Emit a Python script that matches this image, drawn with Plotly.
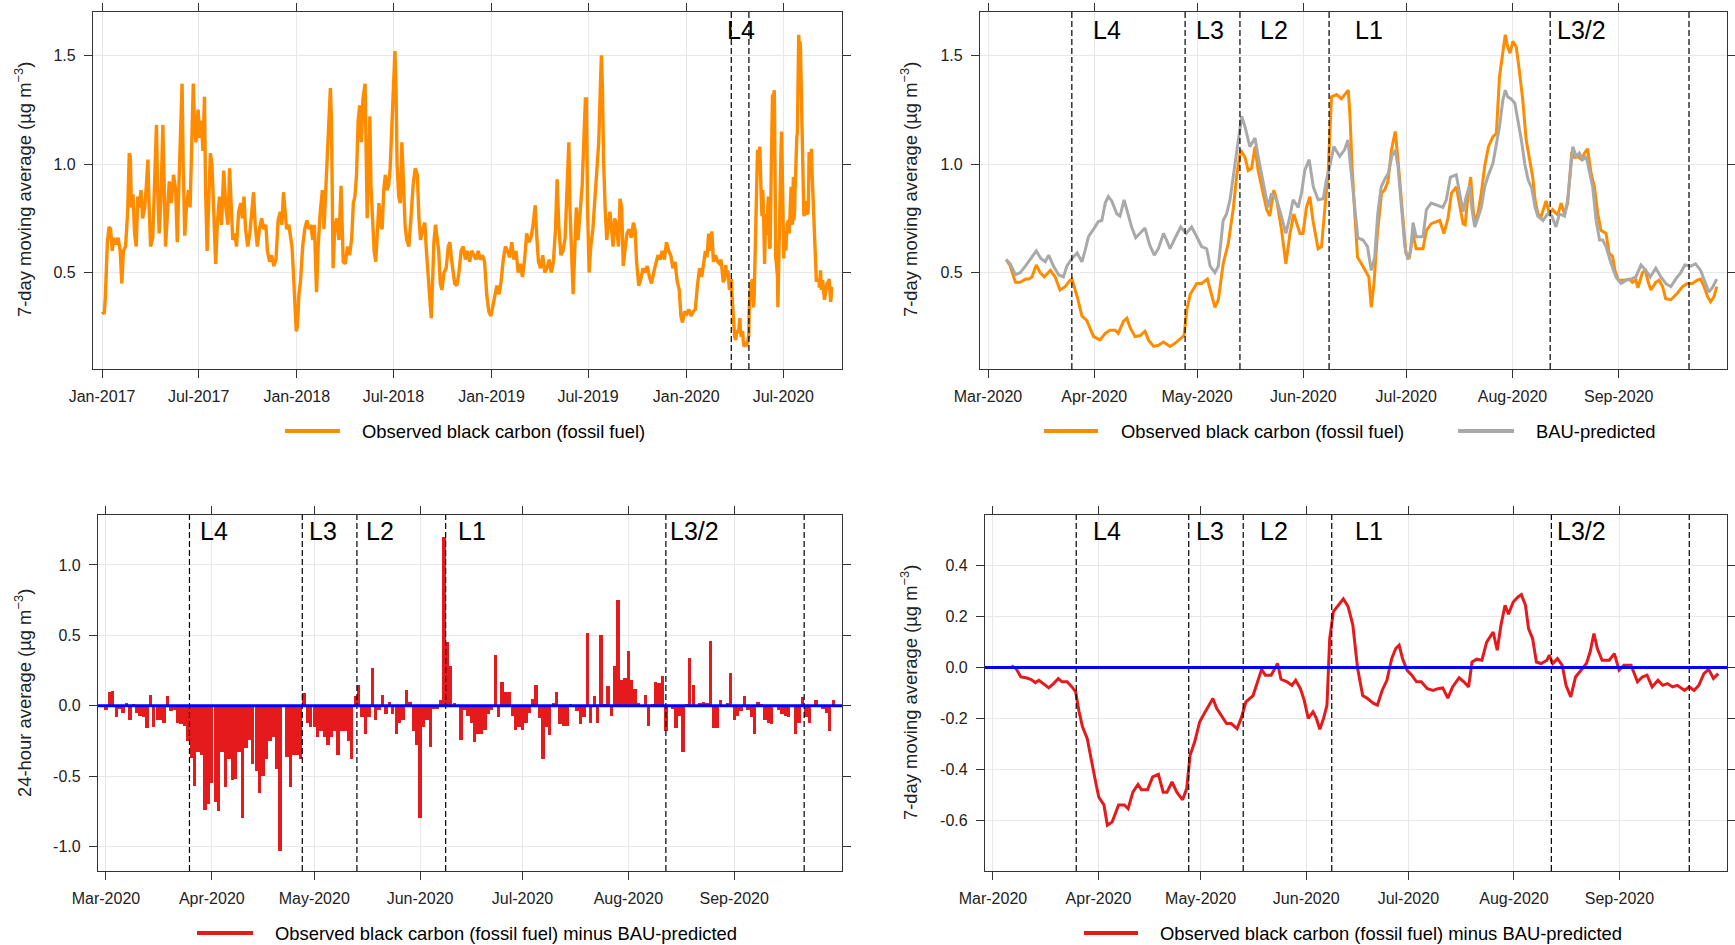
import pandas as pd
import plotly.graph_objects as go

W, H = 1735, 945
FONT = "Liberation Sans, Arial, sans-serif"
ORANGE = "#FF8C00"
GREY = "#A9A9A9"
RED = "#E41A1C"
BLUE = "#0000FF"

# ---------------------------------------------------------------- data
# Observed black carbon (fossil fuel), 7-day moving average, 2017 - early 2020
# (days since 2017-01-01, ug m-3)
hist_day = [0, 4, 6, 8, 10, 13, 16, 19, 22, 26, 30, 34, 37, 40, 44, 48, 51, 53, 55, 58,
            61, 64, 67, 70, 73, 76, 80, 83, 86, 88, 91, 95, 99, 102, 104, 107, 110, 114, 116, 119,
            122, 126, 130, 134, 138, 141, 144, 147, 150, 152, 155, 158, 162, 165, 168, 171, 173, 176, 180, 183,
            186, 189, 192, 194, 197, 200, 203, 206, 209, 213, 216, 220, 224, 228, 232, 236, 239, 242, 245, 249,
            252, 256, 260, 263, 266, 269, 273, 277, 280, 284, 287, 291, 295, 299, 303, 307, 310, 314, 318, 322,
            326, 330, 334, 337, 340, 343, 346, 350, 353, 356, 359, 362, 364, 366, 369, 372, 376, 380, 384, 388,
            391, 395, 398, 402, 405, 409, 413, 416, 420, 424, 428, 430, 433, 436, 440, 444, 448, 452, 456, 460,
            464, 468, 471, 474, 477, 480, 483, 486, 489, 493, 495, 497, 500, 502, 504, 507, 510, 513, 516, 519,
            522, 525, 528, 531, 534, 537, 540, 543, 546, 549, 551, 553, 556, 559, 562, 565, 568, 571, 575, 579,
            583, 587, 591, 594, 597, 601, 605, 608, 611, 614, 617, 619, 622, 625, 628, 631, 634, 637, 641, 645,
            649, 652, 655, 658, 661, 665, 669, 673, 677, 681, 685, 689, 693, 697, 701, 705, 709, 713, 717, 721,
            725, 729, 732, 736, 740, 744, 748, 752, 756, 760, 764, 768, 772, 776, 780, 784, 788, 792, 796, 800,
            804, 808, 812, 815, 818, 822, 826, 830, 834, 838, 842, 846, 850, 853, 856, 860, 864, 868, 872, 875,
            877, 880, 883, 886, 889, 892, 896, 900, 903, 906, 908, 910, 913, 916, 920, 924, 928, 931, 934, 936,
            938, 940, 943, 946, 949, 952, 955, 958, 961, 964, 968, 971, 974, 977, 980, 984, 988, 992, 996, 999,
            1002, 1006, 1010, 1014, 1018, 1022, 1026, 1030, 1034, 1038, 1042, 1046, 1050, 1054, 1058, 1062, 1066, 1070, 1074, 1078,
            1082, 1085, 1088, 1092, 1096, 1100, 1104, 1108, 1112, 1116, 1120, 1124, 1128, 1131, 1134, 1137, 1140, 1143, 1146, 1150,
            1154, 1158]
hist_val = [0.32, 0.31, 0.38, 0.52, 0.64, 0.71, 0.70, 0.60, 0.66, 0.63, 0.66, 0.60, 0.45, 0.60, 0.62, 0.78, 1.05, 1.03, 0.80, 0.86,
            0.68, 0.62, 0.85, 0.80, 0.88, 0.75, 0.80, 0.90, 1.02, 0.82, 0.62, 0.66, 0.95, 1.18, 0.90, 0.68, 0.82, 1.18, 0.95, 0.62,
            0.75, 0.92, 0.82, 0.95, 0.88, 0.64, 0.90, 1.12, 1.37, 1.00, 0.67, 0.80, 0.88, 0.80, 1.05, 1.37, 1.20, 1.10, 1.25, 1.12,
            1.20, 1.06, 1.31, 0.88, 0.60, 0.78, 1.05, 1.00, 0.80, 0.54, 0.72, 0.85, 0.72, 0.97, 0.80, 0.72, 0.98, 0.80, 0.65, 0.68,
            0.62, 0.78, 0.82, 0.75, 0.85, 0.70, 0.62, 0.68, 0.76, 0.87, 0.72, 0.62, 0.70, 0.75, 0.70, 0.72, 0.60, 0.55, 0.58, 0.53,
            0.56, 0.74, 0.78, 0.72, 0.87, 0.80, 0.70, 0.72, 0.68, 0.62, 0.48, 0.30, 0.23, 0.25, 0.40, 0.46, 0.62, 0.70, 0.74, 0.70,
            0.72, 0.65, 0.72, 0.41, 0.62, 0.78, 0.88, 0.70, 0.90, 1.10, 1.35, 1.20, 0.52, 0.70, 0.75, 0.65, 0.90, 0.55, 0.54, 0.62,
            0.58, 0.66, 0.82, 0.85, 0.95, 1.20, 1.27, 1.10, 1.30, 1.37, 1.10, 0.75, 1.00, 1.22, 0.90, 0.70, 0.60, 0.55, 0.66, 0.82,
            0.72, 0.70, 0.88, 0.95, 0.88, 0.90, 0.98, 1.15, 1.40, 1.52, 1.35, 1.00, 0.85, 0.82, 1.10, 0.90, 0.72, 0.65, 0.62, 0.75,
            0.90, 0.98, 0.95, 0.75, 0.65, 0.70, 0.73, 0.60, 0.50, 0.38, 0.29, 0.42, 0.64, 0.72, 0.66, 0.60, 0.45, 0.42, 0.50, 0.52,
            0.62, 0.64, 0.56, 0.50, 0.45, 0.44, 0.50, 0.60, 0.62, 0.56, 0.60, 0.55, 0.60, 0.58, 0.56, 0.60, 0.56, 0.58, 0.55, 0.40,
            0.32, 0.30, 0.34, 0.38, 0.44, 0.40, 0.46, 0.56, 0.62, 0.60, 0.57, 0.64, 0.56, 0.60, 0.50, 0.54, 0.48, 0.56, 0.68, 0.64,
            0.66, 0.72, 0.81, 0.66, 0.55, 0.52, 0.58, 0.50, 0.52, 0.56, 0.50, 0.55, 0.70, 0.93, 0.72, 0.58, 0.60, 0.66, 0.95, 1.10,
            0.80, 0.55, 0.40, 0.60, 0.80, 0.65, 0.78, 0.90, 1.10, 1.30, 1.30, 0.80, 0.50, 0.62, 0.70, 0.85, 1.00, 1.10, 1.35, 1.50,
            1.35, 1.02, 0.80, 0.65, 0.72, 0.78, 0.70, 0.62, 0.75, 0.72, 0.62, 0.84, 0.80, 0.53, 0.60, 0.68, 0.70, 0.66, 0.73, 0.70,
            0.55, 0.44, 0.47, 0.52, 0.50, 0.53, 0.48, 0.45, 0.50, 0.55, 0.58, 0.56, 0.60, 0.56, 0.64, 0.60, 0.58, 0.52, 0.55, 0.46,
            0.42, 0.30, 0.27, 0.32, 0.31, 0.33, 0.30, 0.32, 0.33, 0.44, 0.52, 0.48, 0.55, 0.60, 0.57, 0.68, 0.60, 0.69, 0.55, 0.58,
            0.55, 0.54]

# Mar-Sep 2020, 7-day moving averages (days since 2020-03-01, ug m-3)
obs_day = [5.3, 6.5, 8.0, 9.4, 11.0, 12.0, 12.8, 14.1, 15.2, 16.4, 18.2, 19.6, 21.0, 22.5, 24.0, 24.5, 26.0, 27.4, 28.8, 30.8,
           32.7, 34.2, 35.6, 37.1, 38.0, 39.5, 40.5, 41.5, 42.9, 44.4, 45.8, 46.8, 48.3, 49.7, 51.2, 53.1, 54.6, 56.0, 57.2, 58.0,
           59.0, 60.9, 62.3, 64.0, 64.8, 66.2, 67.2, 68.6, 70.1, 71.6, 72.5, 73.7, 75.0, 75.9, 76.9, 77.9, 78.8, 80.3, 81.3, 82.2,
           83.4, 84.2, 85.6, 86.9, 88.1, 89.2, 91.0, 91.9, 92.9, 93.9, 94.8, 96.3, 97.3, 98.3, 99.2, 100.2, 101.7, 103.1, 104.6, 105.1,
           105.6, 106.2, 107.0, 107.8, 109.0, 110.4, 111.1, 111.8, 112.6, 113.6, 114.8, 115.7, 116.7, 117.7, 118.8, 119.6, 120.6, 121.4, 121.9, 122.9,
           123.9, 124.9, 126.9, 127.9, 129.3, 131.8, 133.0, 134.2, 135.2, 136.6, 137.6, 138.6, 139.2, 140.0, 140.8, 141.8, 142.9, 143.9, 144.9, 146.0,
           147.3, 148.3, 149.2, 150.2, 150.9, 151.6, 152.3, 153.1, 154.1, 155.0, 156.0, 157.0, 157.9, 158.9, 159.6, 160.4, 161.4, 162.8, 163.8, 164.7,
           166.2, 167.2, 168.2, 169.1, 170.3, 171.1, 172.0, 173.2, 174.0, 174.9, 175.9, 176.9, 177.9, 178.8, 180.3, 181.2, 182.2, 182.9, 183.9, 185.6,
           187.1, 188.0, 189.0, 189.6, 190.9, 191.8, 192.6, 193.4, 194.8, 195.8, 196.8, 197.7, 199.2, 201.1, 202.6, 204.0, 205.5, 206.9, 207.9, 208.9,
           209.9, 210.8, 211.8, 212.6]
obs_val = [0.56, 0.53, 0.455, 0.455, 0.47, 0.47, 0.48, 0.535, 0.50, 0.48, 0.51, 0.48, 0.42, 0.435, 0.465, 0.47, 0.39, 0.30, 0.28, 0.205,
           0.19, 0.22, 0.235, 0.235, 0.22, 0.275, 0.29, 0.245, 0.205, 0.21, 0.23, 0.19, 0.16, 0.165, 0.18, 0.16, 0.175, 0.195, 0.21, 0.33,
           0.40, 0.45, 0.45, 0.47, 0.42, 0.34, 0.375, 0.54, 0.635, 0.80, 0.94, 1.065, 1.03, 0.97, 0.98, 1.08, 0.97, 0.865, 0.79, 0.76,
           0.88, 0.835, 0.70, 0.54, 0.68, 0.77, 0.68, 0.68, 0.80, 0.85, 0.74, 0.61, 0.62, 0.80, 0.955, 1.31, 1.32, 1.30, 1.33, 1.34,
           1.22, 0.99, 0.77, 0.57, 0.54, 0.50, 0.48, 0.34, 0.45, 0.68, 0.865, 0.88, 0.92, 1.065, 1.15, 1.02, 0.835, 0.68, 0.59, 0.565,
           0.68, 0.61, 0.61, 0.695, 0.725, 0.74, 0.68, 0.75, 0.865, 0.895, 0.80, 0.725, 0.72, 0.85, 0.94, 0.74, 0.77, 0.865, 0.99, 1.08,
           1.126, 1.14, 1.40, 1.525, 1.595, 1.54, 1.51, 1.565, 1.54, 1.43, 1.295, 1.11, 1.02, 0.94, 0.835, 0.77, 0.76, 0.83, 0.77, 0.79,
           0.765, 0.82, 0.77, 0.82, 1.055, 1.03, 1.035, 1.02, 1.05, 1.07, 0.96, 0.895, 0.77, 0.695, 0.68, 0.59, 0.575, 0.51, 0.465, 0.465,
           0.47, 0.455, 0.465, 0.43, 0.50, 0.51, 0.455, 0.42, 0.455, 0.465, 0.435, 0.38, 0.375, 0.405, 0.435, 0.45, 0.45, 0.465, 0.47, 0.435,
           0.39, 0.365, 0.39, 0.435]

bau_day = [5.3, 6.5, 8.0, 9.4, 10.9, 12.3, 14.1, 15.4, 16.7, 17.7, 19.1, 20.6, 22.0, 23.0, 24.5, 26.0, 27.4, 28.3, 29.3, 30.8,
           32.2, 33.2, 34.2, 35.1, 36.1, 37.6, 38.5, 39.7, 41.0, 41.9, 43.1, 44.4, 45.8, 47.1, 48.5, 49.7, 51.2, 52.1, 53.1, 54.6,
           56.2, 57.8, 59.4, 60.9, 62.3, 63.8, 64.8, 66.2, 67.2, 68.6, 69.6, 70.6, 71.6, 72.5, 74.0, 75.0, 76.4, 77.9, 78.8, 80.3,
           81.7, 82.7, 84.2, 85.6, 86.9, 88.1, 89.0, 90.5, 91.5, 92.4, 93.7, 94.9, 96.3, 97.8, 98.7, 99.7, 100.9, 102.6, 104.0, 105.0,
           106.0, 107.0, 107.9, 109.4, 110.7, 111.8, 112.8, 113.7, 114.7, 115.9, 116.8, 117.8, 118.8, 119.6, 120.6, 121.6, 122.5, 123.3, 124.0, 124.9,
           126.9, 127.9, 129.3, 131.3, 132.7, 133.7, 134.9, 136.6, 137.6, 138.6, 139.5, 140.5, 141.2, 142.0, 142.9, 143.9, 144.9, 146.0, 147.3, 148.3,
           149.2, 150.2, 150.9, 151.6, 152.6, 153.7, 154.6, 155.6, 156.6, 157.6, 158.6, 159.6, 160.4, 161.9, 163.3, 164.5, 165.7, 166.7, 168.2, 169.1,
           170.6, 171.6, 172.5, 173.5, 174.5, 175.4, 176.4, 177.4, 178.4, 179.3, 180.3, 181.8, 183.2, 184.7, 186.2, 187.6, 189.0, 190.5, 191.9, 193.2,
           194.8, 196.3, 197.7, 199.2, 200.6, 202.1, 203.3, 205.0, 206.4, 207.9, 209.4, 210.3, 211.3, 212.6]
bau_val = [0.56, 0.54, 0.49, 0.50, 0.53, 0.56, 0.60, 0.565, 0.55, 0.58, 0.53, 0.49, 0.48, 0.53, 0.565, 0.59, 0.55, 0.60, 0.665, 0.70,
           0.735, 0.74, 0.82, 0.85, 0.83, 0.77, 0.76, 0.835, 0.76, 0.71, 0.66, 0.68, 0.705, 0.63, 0.58, 0.61, 0.68, 0.65, 0.61, 0.66,
           0.71, 0.68, 0.71, 0.665, 0.62, 0.61, 0.53, 0.50, 0.53, 0.74, 0.77, 0.835, 0.96, 1.05, 1.22, 1.17, 1.08, 1.12, 1.035, 0.91,
           0.80, 0.865, 0.835, 0.76, 0.68, 0.76, 0.835, 0.80, 0.87, 0.97, 1.02, 0.895, 0.835, 0.84, 0.925, 0.99, 1.08, 1.035, 1.065, 1.11,
           0.96, 0.80, 0.66, 0.65, 0.62, 0.51, 0.57, 0.77, 0.895, 0.934, 0.957, 1.035, 1.065, 0.99, 0.80, 0.62, 0.56, 0.60, 0.73, 0.665,
           0.665, 0.79, 0.82, 0.81, 0.80, 0.835, 0.94, 0.95, 0.865, 0.78, 0.85, 0.90, 0.79, 0.71, 0.75, 0.80, 0.895, 0.95, 1.003, 1.095,
           1.17, 1.295, 1.34, 1.31, 1.30, 1.28, 1.20, 1.11, 1.00, 0.925, 0.89, 0.80, 0.76, 0.74, 0.77, 0.76, 0.71, 0.77, 0.76, 0.835,
           1.08, 1.035, 1.05, 1.02, 1.035, 0.97, 0.895, 0.74, 0.65, 0.65, 0.62, 0.54, 0.48, 0.45, 0.465, 0.47, 0.48, 0.535, 0.51, 0.48,
           0.52, 0.48, 0.45, 0.435, 0.47, 0.50, 0.535, 0.53, 0.54, 0.51, 0.45, 0.41, 0.43, 0.47]

# Observed minus BAU, 24-hour averages, one value per day from 2020-03-01 (None = no data)
diff24 = [-0.03, 0.095, 0.105, -0.08, -0.02, -0.05, 0.02, -0.10, 0.01, -0.05,
          -0.07, -0.08, -0.16, 0.08, -0.15, -0.10, -0.10, -0.12, 0.07, -0.04,
          -0.03, -0.12, -0.13, -0.14, -0.25, -0.37, -0.57, -0.33, -0.35, -0.74,
          -0.70, -0.55, -0.68, -0.75, -0.33, -0.58, -0.38, -0.53, -0.52, -0.33,
          -0.80, -0.30, -0.24, -0.41, -0.46, -0.62, -0.50, -0.38, -0.25, -0.22,
          -0.45, -1.03, None, -0.36, -0.58, -0.35, -0.35, -0.38, 0.09, -0.12,
          -0.15, -0.15, -0.22, -0.18, -0.22, -0.28, -0.22, -0.18, -0.35, -0.18,
          -0.18, -0.25, -0.38, 0.07, 0.15, -0.08, -0.20, -0.08, 0.27, -0.10,
          -0.03, 0.08, -0.06, 0.03, -0.06, -0.20, -0.12, -0.10, 0.11, 0.03,
          -0.18, -0.28, -0.80, -0.15, -0.10, -0.29, -0.02, -0.02, 0.04, 1.20,
          0.45, 0.28, 0.02, -0.01, -0.24, -0.03, -0.07, -0.12, -0.26, -0.20,
          -0.20, -0.17, -0.06, -0.03, 0.36, -0.08, 0.17, 0.10, 0.10, -0.07,
          -0.17, -0.15, -0.17, -0.12, -0.05, 0.05, 0.15, -0.09, -0.38, -0.15,
          -0.21, 0.02, 0.10, -0.13, -0.14, -0.14, 0.01, -0.01, -0.04, -0.13,
          -0.08, 0.52, -0.12, 0.07, -0.12, 0.50, 0.01, 0.14, -0.07, 0.28,
          0.75, 0.18, 0.20, 0.39, 0.18, 0.12, 0.02, -0.01, 0.08, -0.14,
          0.01, 0.17, 0.16, 0.21, -0.18, 0.00, -0.02, -0.16, -0.07, -0.33,
          0.01, 0.34, 0.15, 0.00, 0.02, 0.03, 0.02, 0.46, -0.16, -0.16,
          0.04, 0.00, 0.02, 0.23, -0.10, -0.07, -0.04, 0.07, -0.03, -0.08,
          -0.20, 0.03, 0.01, -0.10, -0.12, -0.13, -0.01, -0.03, -0.06, -0.07,
          -0.08, -0.01, -0.20, -0.12, 0.06, -0.08, -0.12, -0.01, 0.04, -0.01,
          -0.02, -0.05, -0.18, 0.04]

# Observed minus BAU, 7-day moving average (days since 2020-03-01)
diff7_day = [5.4, 6.8, 8.2, 9.7, 11.1, 12.5, 13.5, 14.7, 16.4, 17.8, 19.2, 20.3, 21.8, 23.2, 24.3, 25.3, 26.3, 27.7, 28.9, 30.3,
             31.1, 32.6, 33.6, 35.0, 36.9, 38.6, 39.7, 41.1, 42.6, 43.6, 45.4, 46.9, 48.6, 50.0, 51.1, 52.6, 54.0, 55.7, 56.9, 57.9,
             59.3, 60.7, 62.1, 63.6, 64.6, 65.7, 67.1, 68.6, 70.0, 71.7, 72.9, 74.3, 76.4, 77.9, 78.9, 80.0, 81.7, 83.6, 84.6, 86.4,
             87.8, 88.9, 90.3, 91.4, 92.6, 94.0, 95.0, 96.0, 97.1, 98.1, 98.9, 100.0, 101.4, 102.9, 104.3, 105.7, 107.1, 108.6, 110.0, 111.7,
             112.9, 114.3, 115.7, 117.1, 118.3, 119.3, 120.3, 121.6, 123.0, 124.4, 125.8, 127.6, 129.3, 130.7, 132.1, 133.6, 135.0, 136.9, 138.3, 139.7,
             140.7, 142.1, 143.6, 145.0, 146.9, 148.1, 149.2, 150.4, 151.4, 152.8, 154.2, 155.2, 156.4, 157.3, 158.5, 159.6, 161.0, 162.7, 163.4, 164.4,
             165.8, 167.2, 168.3, 169.7, 171.1, 172.8, 174.3, 175.4, 176.5, 177.5, 178.9, 181.0, 182.5, 183.9, 185.3, 187.4, 189.3, 190.7, 192.1, 193.6,
             195.3, 196.7, 198.1, 199.6, 201.0, 203.1, 204.5, 205.9, 207.3, 208.8, 210.2, 211.6, 213.0]
diff7_val = [0.007, -0.004, -0.037, -0.04, -0.046, -0.059, -0.05, -0.063, -0.08, -0.063, -0.043, -0.056, -0.056, -0.076, -0.096, -0.174, -0.233, -0.28, -0.37, -0.46,
             -0.51, -0.54, -0.62, -0.607, -0.54, -0.54, -0.555, -0.49, -0.46, -0.48, -0.48, -0.43, -0.42, -0.49, -0.49, -0.45, -0.49, -0.52, -0.476, -0.345,
             -0.29, -0.214, -0.18, -0.148, -0.122, -0.16, -0.188, -0.22, -0.22, -0.24, -0.20, -0.135, -0.11, -0.043, -0.007, -0.03, -0.03, 0.016, -0.046, -0.056,
             -0.07, -0.05, -0.083, -0.128, -0.20, -0.174, -0.20, -0.243, -0.20, -0.148, 0.114, 0.22, 0.245, 0.27, 0.24, 0.167, -0.004, -0.11, -0.122, -0.14,
             -0.148, -0.09, -0.05, 0.035, 0.075, 0.088, 0.035, -0.01, -0.03, -0.056, -0.056, -0.083, -0.09, -0.083, -0.08, -0.12, -0.076, -0.04, -0.056, -0.076,
             0.022, 0.033, 0.029, 0.10, 0.14, 0.068, 0.167, 0.245, 0.21, 0.258, 0.278, 0.287, 0.245, 0.153, 0.114, 0.022, 0.016, 0.029, 0.049, 0.016,
             0.035, 0.009, -0.07, -0.115, -0.037, -0.01, 0.016, 0.062, 0.134, 0.075, 0.029, 0.029, 0.055, -0.01, 0.009, 0.009, -0.056, -0.037, -0.03, -0.076,
             -0.05, -0.07, -0.063, -0.076, -0.07, -0.09, -0.076, -0.09, -0.07, -0.024, -0.007, -0.043, -0.024]

# Alert level changes (UTC) and their names
level_dates = ["2020-03-25 11:00", "2020-04-27 12:00", "2020-05-13 12:00",
               "2020-06-08 12:00", "2020-08-12 00:00", "2020-09-21 12:00"]
level_names = ["L4", "L3", "L2", "L1", "L3/2"]

x1_ticks = ["2017-01-01", "2017-07-01", "2018-01-01", "2018-07-01",
            "2019-01-01", "2019-07-01", "2020-01-01", "2020-07-01"]
x2_ticks = ["2020-03-01", "2020-04-01", "2020-05-01", "2020-06-01",
            "2020-07-01", "2020-08-01", "2020-09-01"]
y12_ticks = [0.5, 1.0, 1.5]
y3_ticks = [-1.0, -0.5, 0.0, 0.5, 1.0]
y4_ticks = [-0.6, -0.4, -0.2, 0.0, 0.2, 0.4]


# ---------------------------------------------------------------- helpers
def offset_dates(base, offsets):
    b = pd.Timestamp(base)
    return [b + pd.Timedelta(days=float(o)) for o in offsets]


def px(x):
    return x / W


def py(y):
    return 1 - y / H


def tick_text(vals):
    return [f"{v:.1f}" for v in vals]


obs_dates = offset_dates("2020-03-01", obs_day)
bau_dates = offset_dates("2020-03-01", bau_day)
full_dates = offset_dates("2017-01-01", hist_day) + obs_dates
full_vals = hist_val + obs_val
diff24_dates = offset_dates("2020-03-01", range(len(diff24)))
diff7_dates = offset_dates("2020-03-01", diff7_day)

# plot boxes in pixels: left, right, top, bottom
boxes = {1: (93, 842, 12, 369), 2: (980, 1727, 12, 369),
         3: (98, 842, 515, 871), 4: (985, 1727, 515, 871)}

fig = go.Figure()

fig.add_trace(go.Scatter(x=full_dates, y=full_vals, mode="lines",
                         line=dict(color=ORANGE, width=3.4), xaxis="x", yaxis="y"))
fig.add_trace(go.Scatter(x=obs_dates, y=obs_val, mode="lines",
                         line=dict(color=ORANGE, width=3), xaxis="x2", yaxis="y2"))
fig.add_trace(go.Scatter(x=bau_dates, y=bau_val, mode="lines",
                         line=dict(color=GREY, width=3), xaxis="x2", yaxis="y2"))
fig.add_trace(go.Bar(x=diff24_dates, y=diff24, width=86400000 * 0.98,
                     marker=dict(color=RED, line=dict(width=0)), xaxis="x3", yaxis="y3"))
fig.add_trace(go.Scatter(x=diff7_dates, y=diff7_val, mode="lines",
                         line=dict(color=RED, width=3), xaxis="x4", yaxis="y4"))

axis_common = dict(showline=True, mirror="allticks", linecolor="#333333", linewidth=1.3,
                   ticks="outside", ticklen=8, tickwidth=1.2, tickcolor="#333333",
                   showgrid=True, gridcolor="#e8e8e8", gridwidth=1, zeroline=False,
                   automargin=False,
                   tickfont=dict(family=FONT, size=16, color="#222222"))

short_range = ["2020-02-27 16:00", "2020-10-02 14:00"]
layout_axes = {}
for i in range(1, 5):
    l, r, t, b = boxes[i]
    xname = "xaxis" if i == 1 else f"xaxis{i}"
    yname = "yaxis" if i == 1 else f"yaxis{i}"
    xa = dict(axis_common, domain=[px(l), px(r)], anchor="y" if i == 1 else f"y{i}",
              type="date", tickformat="%b-%Y", ticklabelstandoff=5)
    ya = dict(axis_common, domain=[py(b), py(t)], anchor="x" if i == 1 else f"x{i}",
              ticklabelstandoff=5)
    if i == 1:
        xa.update(range=["2016-12-15", "2020-10-19"], tickvals=x1_ticks)
    else:
        xa.update(range=short_range, tickvals=x2_ticks)
    if i in (1, 2):
        ya.update(range=[0.056, 1.70], tickvals=y12_ticks, ticktext=tick_text(y12_ticks))
    elif i == 3:
        ya.update(range=[-1.173, 1.355], tickvals=y3_ticks, ticktext=tick_text(y3_ticks))
    else:
        ya.update(range=[-0.8, 0.6], tickvals=y4_ticks, ticktext=tick_text(y4_ticks))
    layout_axes[xname] = xa
    layout_axes[yname] = ya

shapes = []
# dashed alert-level boundaries
panel_levels = {1: level_dates[:2], 2: level_dates, 3: level_dates, 4: level_dates}
for i, dates in panel_levels.items():
    xr = "x" if i == 1 else f"x{i}"
    yr = "y domain" if i == 1 else f"y{i} domain"
    for d in dates:
        shapes.append(dict(type="line", xref=xr, yref=yr, x0=d, x1=d, y0=0, y1=1,
                           line=dict(color="black", width=1.2, dash="6px,3px")))
# zero reference lines
for i in (3, 4):
    shapes.append(dict(type="line", xref=f"x{i} domain", yref=f"y{i}", x0=0, x1=1, y0=0, y1=0,
                       line=dict(color=BLUE, width=3)))

annotations = []
# alert level labels (label centres, days since 2020-03-01)
label_pos = {2: [34.7, 64.7, 83.5, 111.1, 173.0],
             3: [31.7, 63.6, 80.3, 107.2, 172.3],
             4: [33.4, 63.6, 82.6, 110.5, 172.8]}
for i, offs in label_pos.items():
    ytop = 30 if i == 2 else 531
    for name, d in zip(level_names, offset_dates("2020-03-01", offs)):
        annotations.append(dict(x=d, xref=f"x{i}", y=py(ytop), yref="paper", text=name,
                                showarrow=False, xanchor="center", yanchor="middle",
                                font=dict(family=FONT, size=25, color="black")))
annotations.append(dict(x="2020-04-13", xref="x", y=py(30), yref="paper", text="L4",
                        showarrow=False, xanchor="center", yanchor="middle",
                        font=dict(family=FONT, size=25, color="black")))

# y-axis titles
ytitle7 = "7-day moving average (\u00b5g m<sup>\u22123</sup>)"
ytitle24 = "24-hour average (\u00b5g m<sup>\u22123</sup>)"
for x, y, txt in [(23, 190, ytitle7), (909, 190, ytitle7), (23, 693, ytitle24), (909, 693, ytitle7)]:
    annotations.append(dict(x=px(x), y=py(y), xref="paper", yref="paper", text=txt,
                            textangle=-90, showarrow=False, xanchor="center", yanchor="middle",
                            font=dict(family=FONT, size=18.4, color="#222222")))

# legends drawn below each panel
legend_items = [
    (285, 340, 431, ORANGE, 360, "Observed black carbon (fossil fuel)"),
    (1044, 1098, 431, ORANGE, 1119, "Observed black carbon (fossil fuel)"),
    (1458, 1514, 431, GREY, 1534, "BAU-predicted"),
    (197, 253, 933, RED, 273, "Observed black carbon (fossil fuel) minus BAU-predicted"),
    (1084, 1138, 933, RED, 1158, "Observed black carbon (fossil fuel) minus BAU-predicted"),
]
for x0, x1, y, col, tx, txt in legend_items:
    shapes.append(dict(type="line", xref="paper", yref="paper", x0=px(x0), x1=px(x1),
                       y0=py(y), y1=py(y), line=dict(color=col, width=4)))
    annotations.append(dict(x=px(tx), y=py(y), xref="paper", yref="paper", text=txt,
                            showarrow=False, xanchor="left", yanchor="middle",
                            font=dict(family=FONT, size=18.4, color="black")))

fig.update_layout(
    width=W, height=H, margin=dict(l=0, r=0, t=0, b=0, autoexpand=False),
    paper_bgcolor="white", plot_bgcolor="white",
    showlegend=False, bargap=0,
    shapes=shapes, annotations=annotations,
    font=dict(family=FONT),
    **layout_axes,
)

fig.write_html("out.html")
